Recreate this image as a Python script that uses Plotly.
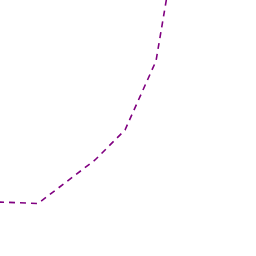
import plotly.graph_objects as go

x_vals = [-2, 38, 95, 125, 156, 166, 168]
y_vals = [54, 52.5, 96, 126, 195, 256, 266]

fig = go.Figure()
fig.add_trace(go.Scatter(x=x_vals, y=y_vals, mode="lines",
                         line=dict(color="#800080", width=1.6, dash="6px,5px"),
                         showlegend=False, hoverinfo="skip"))
fig.update_layout(width=256, height=256, margin=dict(l=0, r=0, t=0, b=0),
                  paper_bgcolor="white", plot_bgcolor="white",
                  xaxis=dict(range=[0, 256], visible=False),
                  yaxis=dict(range=[0, 256], visible=False))
fig.write_html("out.html")
